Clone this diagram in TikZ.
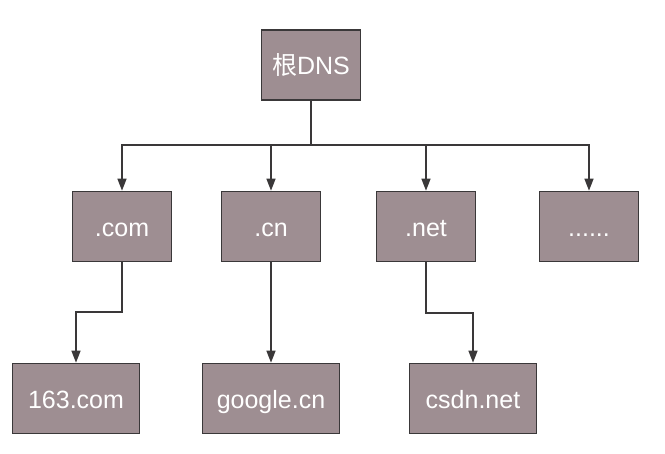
\documentclass[tikz,border=0pt]{standalone}
\usepackage{fontspec}
\setmainfont{Liberation Sans}
\newfontfamily\cjk{Noto Sans CJK SC}
\usetikzlibrary{positioning, arrows.meta}
\definecolor{boxfill}{RGB}{158,142,146}
\definecolor{boxline}{RGB}{58,56,57}
\tikzset{
  dblk/.style={draw=boxline, line width=1.6pt, fill=boxfill, text=white,
               font=\fontsize{25}{28}\selectfont, minimum height=70pt,
               text height=20pt, text depth=0pt, inner sep=0pt},
  dtop/.style={dblk, minimum width=99pt},    % корень и зоны
  dsub/.style={dblk, minimum width=127pt},
  dln/.style={boxline, line width=1.4pt},
  dar/.style={dln, -{Triangle[length=12pt, width=9pt]}},
}
\begin{document}
\begin{tikzpicture}[x=1pt, y=-1pt]
        \useasboundingbox (0,0) rectangle (665,454);
        \node[dtop](root) at (311,65){{\cjk 根}DNS};
        \node[dtop](com) at (122,226.5){.com};
        \node[dtop](cn) at (271,226.5){.cn};
        \node[dtop](net) at (426,226.5){.net};
        \node[dtop](more) at (589,226.5){......};
        \node[dsub](s163) at (76,398.5){163.com};
        \node[dsub, minimum width=137pt](google) at (271,398.5){google.cn};
        \node[dsub](csdn) at (473,398.5){csdn.net};
        \coordinate(split) at (311,145);
        \coordinate(kcom) at (122,312);
        \coordinate(knet) at (426,313);
        \draw[dln](root)--(split);
        \foreach \z in {com,cn,net,more} \draw[dar](split)-|(\z);
        \draw[dar](com)--(kcom)-|(s163);
        \draw[dar](cn)--(google);
        \draw[dar](net)--(knet)-|(csdn);
      \end{tikzpicture}
\end{document}
